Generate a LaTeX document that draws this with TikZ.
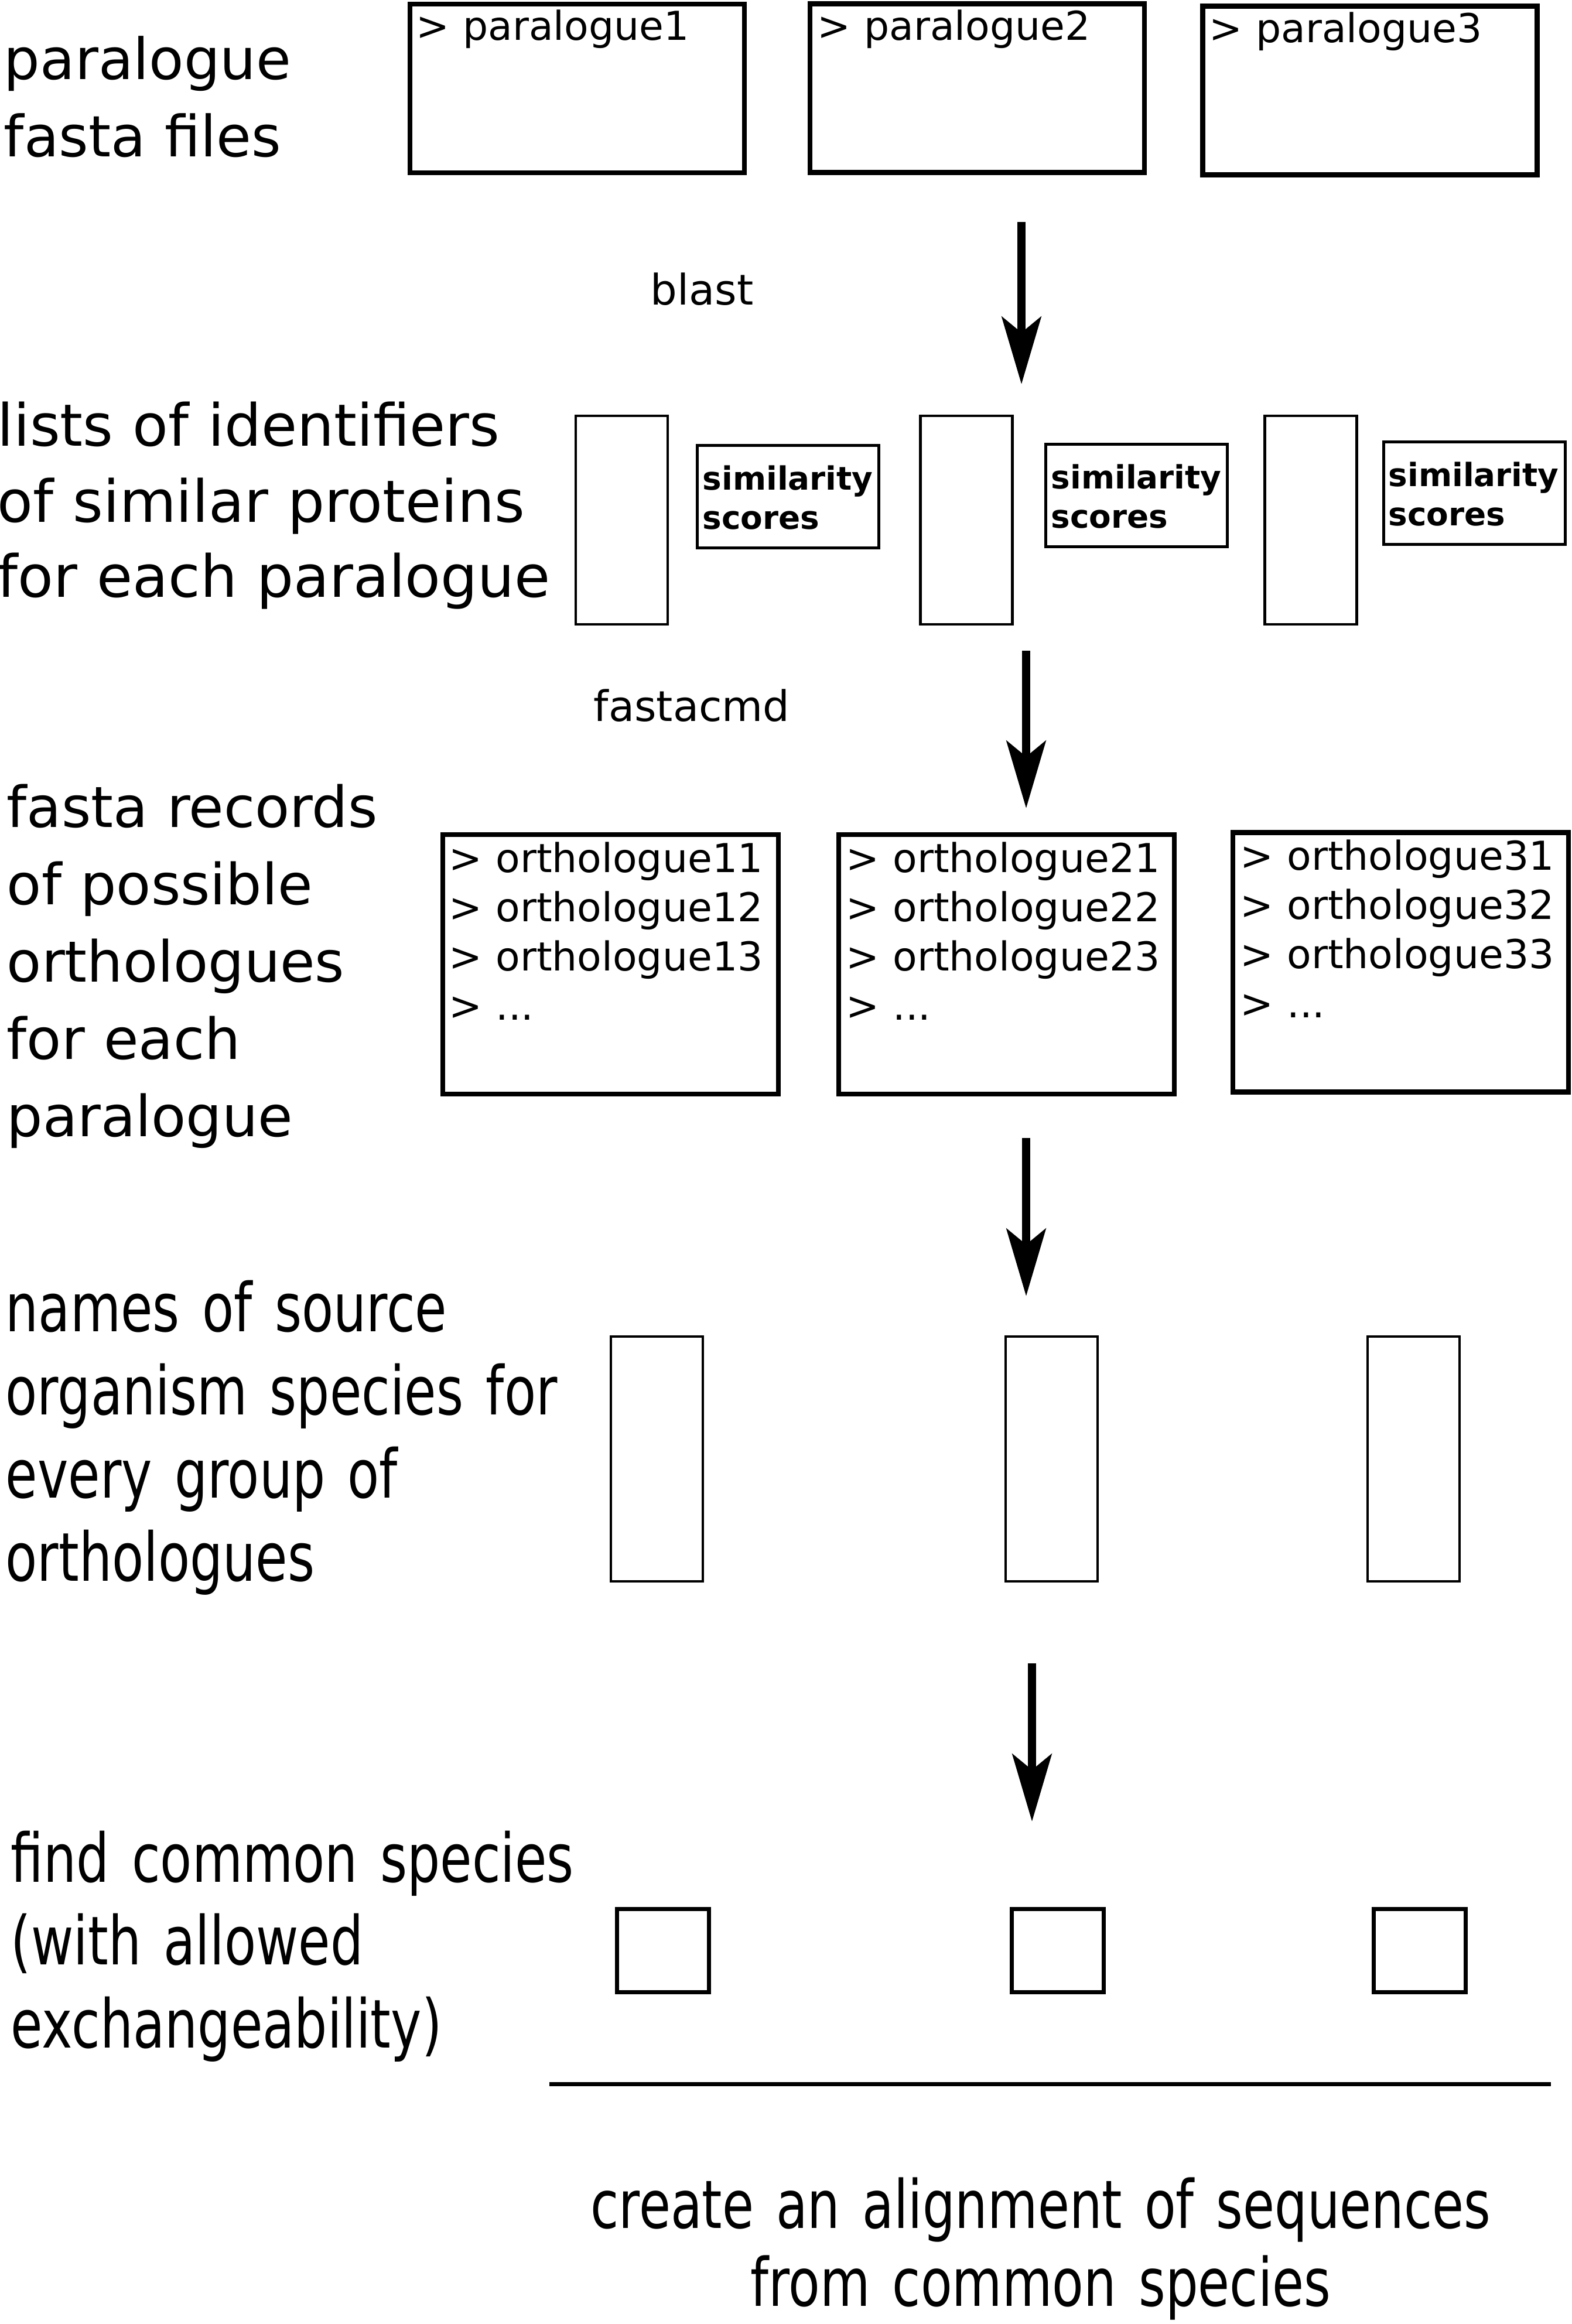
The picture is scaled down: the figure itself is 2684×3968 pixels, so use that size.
\documentclass[tikz,border=0pt]{standalone}
\usepackage{fontspec}
\setmainfont{DejaVu Sans}
\newfontfamily\narrowfont{DejaVu Sans}[FakeStretch=0.77]
\usetikzlibrary{arrows.meta}
\usetikzlibrary{positioning}

\tikzset{
    steplabel/.style = {anchor=base west, inner sep=0pt, align=left, text width=300pt,
        font=\fontsize{24.5pt}{33pt}\selectfont},
    narrowlabel/.style = {steplabel, font=\narrowfont\fontsize{28.75pt}{35.5pt}\selectfont},
    tooltext/.style = {anchor=base west, inner sep=0pt, font=\fontsize{18pt}{22pt}\selectfont},
    filetext/.style = {anchor=base west, inner sep=0pt, align=left, text width=140pt,
        font=\fontsize{17pt}{21pt}\selectfont},
    scoretext/.style = {anchor=base west, inner sep=0pt, align=left, text width=75pt,
        font=\bfseries\fontsize{13.7pt}{16.75pt}\selectfont},
    filebox/.style = {draw, line width=2.15pt, inner sep=0pt},
    parabox/.style = {filebox, minimum width=142.75pt, minimum height=72pt},
    orthbox/.style = {filebox, minimum width=143.25pt, minimum height=110.75pt},
    idbox/.style = {draw, line width=1.1pt, inner sep=0pt, minimum width=39.25pt, minimum height=89pt},
    namebox/.style = {idbox, minimum height=104.5pt},
    scorebox/.style = {draw, line width=1.25pt, inner sep=0pt, minimum width=77.5pt, minimum height=43.75pt},
    commonbox/.style = {draw, line width=1.6pt, inner sep=0pt, minimum width=39.25pt, minimum height=35.5pt},
    flow/.style = {-{Stealth[length=28.75pt, width=16.75pt, inset=6.75pt]}, line width=3.45pt},
}

\begin{document}
\begin{tikzpicture}[x=0.25pt, y=-0.25pt]
    \useasboundingbox (0,0) rectangle (2684,3968);

    \node[steplabel, font=\fontsize{24.3pt}{33pt}\selectfont] (lpara) at (6,136) {paralogue\\fasta files};
    \node[parabox] (para1) at (985.5,151) {};
    \node[parabox] (para2) at (1668.5,150.5) {};
    \node[parabox] (para3) at (2339,154.5) {};
    \node[filetext] (ptxt1) at (710,69) {> paralogue1};
    \node[filetext] (ptxt2) at (1395,69) {> paralogue2};
    \node[filetext] (ptxt3) at (2064,73) {> paralogue3};

    \node[tooltext] (blast) at (1110,521) {blast};
    \coordinate (a1top) at (1744,379);
    \coordinate (a1tip) at (1744,656);
    \draw[flow] (a1top) -- (a1tip);

    \node[steplabel, font=\fontsize{24.85pt}{32.25pt}\selectfont] (lident) at (-5,762)
        {lists of identifiers\\of similar proteins\\for each paralogue};
    \node[idbox] (ident1) at (1061.5,888) {};
    \node[idbox] (ident2) at (1650,888) {};
    \node[idbox] (ident3) at (2238,888) {};
    \node[scorebox] (sim1) at (1345.5,848) {};
    \node[scorebox] (sim2) at (1940,846) {};
    \node[scorebox] (sim3) at (2517,842) {};
    \node[scoretext] (stxt1) at (1199,837) {similarity\\scores};
    \node[scoretext] (stxt2) at (1794,835) {similarity\\scores};
    \node[scoretext] (stxt3) at (2370,831) {similarity\\scores};

    \node[tooltext] (fastacmd) at (1013,1231) {fastacmd};
    \coordinate (a2top) at (1752,1111);
    \coordinate (a2tip) at (1752,1380);
    \draw[flow] (a2top) -- (a2tip);

    \node[steplabel, font=\fontsize{24.2pt}{33pt}\selectfont] (lrecords) at (11,1412)
        {fasta records\\of possible\\orthologues\\for each\\paralogue};
    \node[orthbox] (orth1) at (1042.5,1646.5) {};
    \node[orthbox] (orth2) at (1718.5,1646.5) {};
    \node[orthbox] (orth3) at (2391.5,1643) {};
    \node[filetext] (otxt1) at (766,1489) {> orthologue11\\> orthologue12\\> orthologue13\\> ...};
    \node[filetext] (otxt2) at (1444,1489) {> orthologue21\\> orthologue22\\> orthologue23\\> ...};
    \node[filetext] (otxt3) at (2117,1485) {> orthologue31\\> orthologue32\\> orthologue33\\> ...};

    \coordinate (a3top) at (1752,1943);
    \coordinate (a3tip) at (1752,2213);
    \draw[flow] (a3top) -- (a3tip);

    \node[narrowlabel] (lnames) at (9,2273)
        {names of source\\organism species for\\every group of\\orthologues};
    \node[namebox] (names1) at (1121.5,2491) {};
    \node[namebox] (names2) at (1795.5,2491) {};
    \node[namebox] (names3) at (2413.5,2491) {};

    \coordinate (a4top) at (1762,2840);
    \coordinate (a4tip) at (1762,3110);
    \draw[flow] (a4top) -- (a4tip);

    \node[narrowlabel, font=\narrowfont\fontsize{28.75pt}{35.4pt}\selectfont] (lcommon) at (18,3213)
        {find common species\\(with allowed\\exchangeability)};
    \node[commonbox] (common1) at (1132,3330.5) {};
    \node[commonbox] (common2) at (1806,3330.5) {};
    \node[commonbox] (common3) at (2424,3330.5) {};

    \coordinate (ruleL) at (938,3558);
    \coordinate (ruleR) at (2648,3558);
    \draw[line width=1.75pt] (ruleL) -- (ruleR);

    \node[anchor=base, inner sep=0pt, align=center, text width=500pt,
        font=\narrowfont\fontsize{28.5pt}{33.25pt}\selectfont] (lalign) at (1777,3804)
        {create an alignment of sequences\\from common species};
\end{tikzpicture}
\end{document}
